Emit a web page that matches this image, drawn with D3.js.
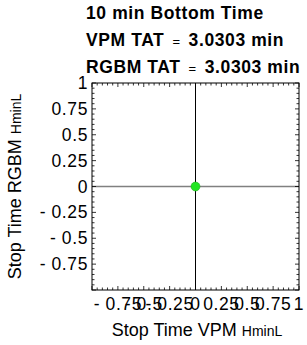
<!DOCTYPE html>
<html>
  <head>
    <meta http-equiv="Content-Type" content="text/html;charset=utf-8"/>
    <script src="https://d3js.org/d3.v7.min.js"></script>
    <style type="text/css">
      body { margin: 0; background: #fff; }
      text { font-family: "Liberation Sans", Arial, sans-serif; }
    </style>
  </head>
  <body>
    <div id="chart"></div>
    <script type="text/javascript">
      // data
      var titleLines = [
        {label: "10 min Bottom Time", value: null},
        {label: "VPM TAT", value: "3.0303 min"},
        {label: "RGBM TAT", value: "3.0303 min"}
      ];
      var points = [{vpm: 0, rgbm: 0}];
      var xTicks = [-0.75, -0.5, -0.25, 0, 0.25, 0.5, 0.75, 1];
      var yTicks = [-0.75, -0.5, -0.25, 0, 0.25, 0.5, 0.75, 1];
      var minorTicks = d3.range(-20, 21).map(function(i) { return i * 0.05; });

      var W = 307, H = 345;
      var pLeft = 92, pRight = 299, pTop = 83, pBottom = 290;

      var svg = d3.select('#chart').append('svg')
        .attr('width', W).attr('height', H);

      var x = d3.scaleLinear().domain([-1, 1]).range([pLeft, pRight]);
      var y = d3.scaleLinear().domain([-1, 1]).range([pBottom, pTop]);

      function fmt(v) {
        if (v === 0) return "0";
        var s = String(Math.abs(v));
        return v < 0 ? "- " + s : s;
      }

      // title
      var title = svg.append('g');
      titleLines.forEach(function(d, i) {
        var t = title.append('text')
          .attr('x', 86).attr('y', 19 + i * 27)
          .style('font-size', '17.5px').style('font-weight', 'bold')
          .style('letter-spacing', '0.6px');
        t.append('tspan').text(d.label);
        if (d.value) {
          t.append('tspan').style('font-weight', 'normal').style('font-size', '13px')
            .attr('dx', 8).text('=');
          t.append('tspan').attr('dx', 8).text(d.value);
        }
      });

      // reference lines
      svg.append('line')
        .attr('x1', x(-1)).attr('x2', x(1)).attr('y1', y(0)).attr('y2', y(0))
        .attr('stroke', '#808080').attr('stroke-width', 1.3);
      svg.append('line')
        .attr('x1', x(0)).attr('x2', x(0)).attr('y1', y(-1)).attr('y2', y(1))
        .attr('stroke', '#000').attr('stroke-width', 1);

      // frame ticks (inside)
      var ticks = svg.append('g').attr('stroke', '#000').attr('stroke-width', 0.8);
      minorTicks.forEach(function(v) {
        var major = Math.abs(Math.round(v * 4) - v * 4) < 1e-9;
        var len = major ? 4 : 2.5;
        ticks.append('line').attr('x1', pLeft).attr('x2', pLeft + len).attr('y1', y(v)).attr('y2', y(v));
        ticks.append('line').attr('x1', pRight).attr('x2', pRight - len).attr('y1', y(v)).attr('y2', y(v));
        ticks.append('line').attr('y1', pBottom).attr('y2', pBottom - len).attr('x1', x(v)).attr('x2', x(v));
        ticks.append('line').attr('y1', pTop).attr('y2', pTop + len).attr('x1', x(v)).attr('x2', x(v));
      });

      svg.append('rect')
        .attr('x', pLeft).attr('y', pTop).attr('width', pRight - pLeft).attr('height', pBottom - pTop)
        .attr('fill', 'none').attr('stroke', '#000').attr('stroke-width', 1);

      // tick labels
      svg.append('g').selectAll('text').data(yTicks).enter().append('text')
        .attr('x', pLeft - 4).attr('y', function(d) { return y(d) + 6; })
        .attr('text-anchor', 'end').style('font-size', '17.5px').style('letter-spacing', '0.6px')
        .text(fmt);
      svg.append('g').selectAll('text').data(xTicks).enter().append('text')
        .attr('x', function(d) { return x(d); }).attr('y', 310)
        .attr('text-anchor', 'middle').style('font-size', '17.5px').style('letter-spacing', '0.6px')
        .text(fmt);

      // axis titles
      var xt = svg.append('text').attr('x', 197).attr('y', 336)
        .attr('text-anchor', 'middle').style('font-size', '18px');
      xt.append('tspan').text('Stop Time VPM ');
      xt.append('tspan').style('font-size', '14px').text('HminL');

      var yt = svg.append('text')
        .attr('transform', 'translate(21,' + ((pTop + pBottom) / 2) + ') rotate(-90)')
        .attr('text-anchor', 'middle').style('font-size', '18px');
      yt.append('tspan').text('Stop Time RGBM ');
      yt.append('tspan').style('font-size', '14px').text('HminL');

      // points
      svg.append('g').selectAll('circle').data(points).enter().append('circle')
        .attr('cx', function(d) { return x(d.vpm); })
        .attr('cy', function(d) { return y(d.rgbm); })
        .attr('r', 4.5).attr('fill', '#22e622').attr('stroke', '#1aa01a').attr('stroke-width', 0.5);
    </script>
  </body>
</html>
